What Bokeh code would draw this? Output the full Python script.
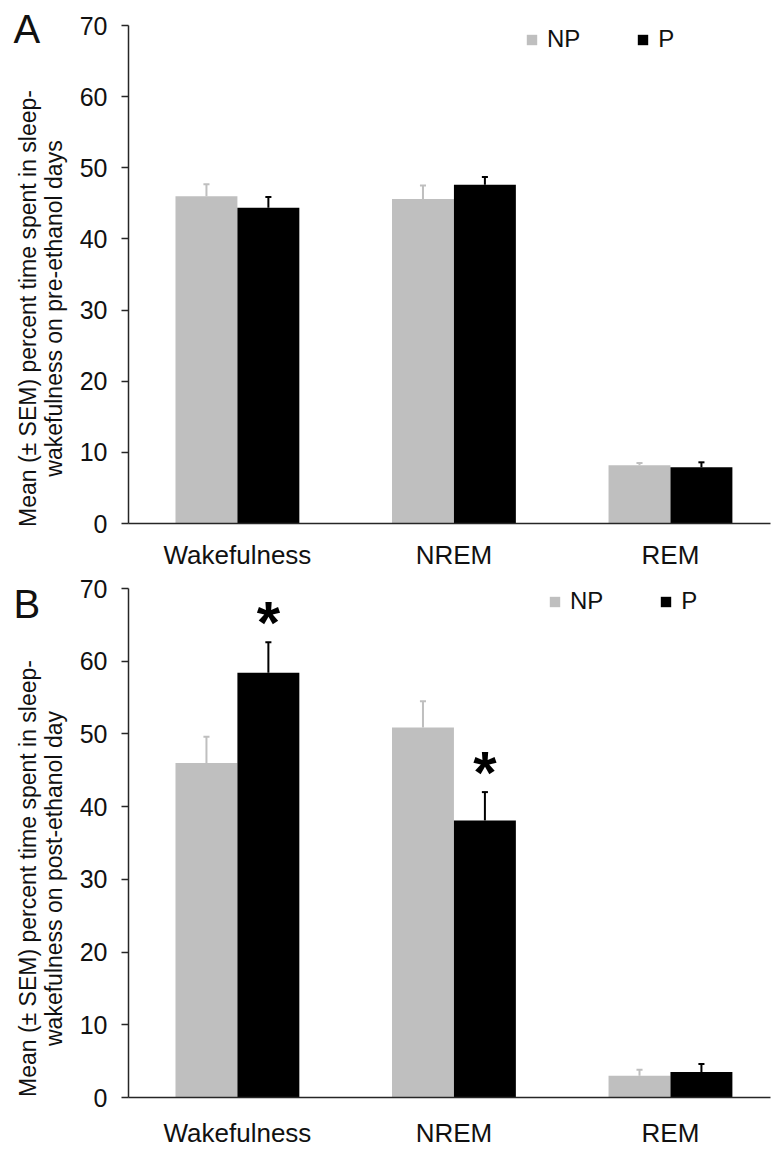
import math
from bokeh.plotting import figure
from bokeh.layouts import column, row
from bokeh.models import Legend, LegendItem, FixedTicker, Range1d
from bokeh.embed import file_html
from bokeh.resources import INLINE
from bokeh.core.properties import value

# ---------------- data ----------------
categories = ["Wakefulness", "NREM", "REM"]
group_labels = ["NP", "P"]
y_ticks = [0, 10, 20, 30, 40, 50, 60, 70]

# Panel A: pre-ethanol days
pre_np = [46.0, 45.6, 8.2]
pre_np_sem = [1.7, 1.9, 0.3]
pre_p = [44.4, 47.6, 7.9]
pre_p_sem = [1.5, 1.1, 0.7]
pre_p_stars = ["", "", ""]

# Panel B: post-ethanol day
post_np = [46.0, 50.9, 3.0]
post_np_sem = [3.6, 3.6, 0.8]
post_p = [58.4, 38.1, 3.5]
post_p_sem = [4.2, 3.9, 1.1]
post_p_stars = ["*", "*", ""]

ylabel_a = ["Mean (\u00b1 SEM) percent time spent in sleep-", "wakefulness on pre-ethanol days"]
ylabel_b = ["Mean (\u00b1 SEM) percent time spent in sleep-", "wakefulness on post-ethanol day"]

# ---------------- style ----------------
FONT = "Liberation Sans"
GRAY = "#BFBFBF"
BLACK = "#000000"
AXIS = "#262626"
TEXT = "#111111"
BAR_W = 0.286
CAP = 0.014
STAR_GAP = 4.4
SIDE_W = 70


def make_side(letter, ylab, height, title_center_from_top, letter_center_from_top):
    s = figure(width=SIDE_W, height=height, x_range=Range1d(0, SIDE_W),
               y_range=Range1d(0, height), x_axis_type=None, y_axis_type=None,
               title=None, output_backend="svg", toolbar_location=None,
               min_border_left=0, min_border_right=0, min_border_top=0, min_border_bottom=0,
               frame_align=False)
    s.outline_line_color = None
    s.grid.visible = False
    yc = height - title_center_from_top
    s.text(x=[27, 53], y=[yc, yc], text=ylab, angle=math.pi / 2,
           text_font=value(FONT), text_font_size="23px", text_color=TEXT,
           text_align="center", text_baseline="middle")
    s.text(x=[13], y=[height - letter_center_from_top], text=[letter],
           text_font=value(FONT), text_font_size="40px", text_color=TEXT,
           text_align="left", text_baseline="middle")
    return s


def make_panel(np_vals, np_sem, p_vals, p_sem, stars,
               height, border_top, border_bottom, legend_loc, xlab_standoff):
    p = figure(width=772 - SIDE_W, height=height,
               x_range=Range1d(-0.503, 2.462), y_range=Range1d(0, 70),
               title=None, output_backend="svg", toolbar_location=None,
               min_border_left=128 - SIDE_W, min_border_right=2,
               min_border_top=border_top, min_border_bottom=border_bottom)
    p.outline_line_color = None
    p.grid.visible = False

    xs = list(range(len(categories)))
    x_np = [x - BAR_W / 2 for x in xs]
    x_p = [x + BAR_W / 2 for x in xs]
    np_top = [v + e for v, e in zip(np_vals, np_sem)]
    p_top = [v + e for v, e in zip(p_vals, p_sem)]

    r_np = p.vbar(x=x_np, top=np_vals, bottom=0, width=BAR_W,
                  fill_color=GRAY, line_color=None)
    r_p = p.vbar(x=x_p, top=p_vals, bottom=0, width=BAR_W,
                 fill_color=BLACK, line_color=None)

    # error bars (upper only)
    p.segment(x0=x_np, y0=np_vals, x1=x_np, y1=np_top, line_color=GRAY, line_width=2)
    p.segment(x0=[x - CAP for x in x_np], y0=np_top, x1=[x + CAP for x in x_np], y1=np_top,
              line_color=GRAY, line_width=2)
    p.segment(x0=x_p, y0=p_vals, x1=x_p, y1=p_top, line_color=BLACK, line_width=2)
    p.segment(x0=[x - CAP for x in x_p], y0=p_top, x1=[x + CAP for x in x_p], y1=p_top,
              line_color=BLACK, line_width=2)

    # significance stars
    sx = [x for x, s in zip(x_p, stars) if s]
    sy = [t + STAR_GAP for t, s in zip(p_top, stars) if s]
    st = [s for s in stars if s]
    if st:
        p.text(x=sx, y=sy, text=st, text_font=value(FONT), text_font_size="60px",
               text_font_style="bold", text_align="center", text_baseline="alphabetic",
               y_offset=12, text_color=BLACK)

    # axes
    p.yaxis.ticker = FixedTicker(ticks=y_ticks)
    p.yaxis.minor_tick_line_color = None
    p.yaxis.major_tick_in = 0
    p.yaxis.major_tick_out = 7
    p.yaxis.major_label_standoff = 14
    p.yaxis.major_label_text_font = FONT
    p.yaxis.major_label_text_font_size = "25px"
    p.yaxis.major_label_text_color = TEXT
    p.yaxis.axis_line_color = AXIS
    p.yaxis.major_tick_line_color = AXIS
    p.yaxis.axis_line_width = 1.5
    p.yaxis.major_tick_line_width = 1.5

    p.xaxis.ticker = FixedTicker(ticks=xs)
    p.xaxis.major_label_overrides = {i: c for i, c in enumerate(categories)}
    p.xaxis.minor_tick_line_color = None
    p.xaxis.major_tick_line_color = None
    p.xaxis.major_tick_in = 0
    p.xaxis.major_tick_out = 0
    p.xaxis.major_label_standoff = xlab_standoff
    p.xaxis.major_label_text_font = FONT
    p.xaxis.major_label_text_font_size = "26px"
    p.xaxis.major_label_text_color = TEXT
    p.xaxis.axis_line_color = AXIS
    p.xaxis.axis_line_width = 1.5

    legend = Legend(items=[LegendItem(label=group_labels[0], renderers=[r_np]),
                           LegendItem(label=group_labels[1], renderers=[r_p])],
                    orientation="horizontal", location=legend_loc,
                    glyph_width=13, glyph_height=13, label_standoff=9, spacing=56,
                    padding=0, margin=0, border_line_color=None,
                    background_fill_alpha=0,
                    label_text_font=FONT, label_text_font_size="24px",
                    label_text_color=TEXT)
    p.add_layout(legend)
    return p


HA, HB = 572, 578
pA = make_panel(pre_np, pre_np_sem, pre_p, pre_p_sem, pre_p_stars,
                height=HA, border_top=25, border_bottom=HA - 524, legend_loc=(397, 470),
                xlab_standoff=16)
sA = make_side("A", ylabel_a, HA, 308, 28)
pB = make_panel(post_np, post_np_sem, post_p, post_p_sem, post_p_stars,
                height=HB, border_top=16, border_bottom=51, legend_loc=(420, 482),
                xlab_standoff=20)
sB = make_side("B", ylabel_b, HB, 306, 31)

layout = column(row(sA, pA, spacing=0), row(sB, pB, spacing=0), spacing=0)
open("out.html", "w").write(file_html(layout, INLINE))
